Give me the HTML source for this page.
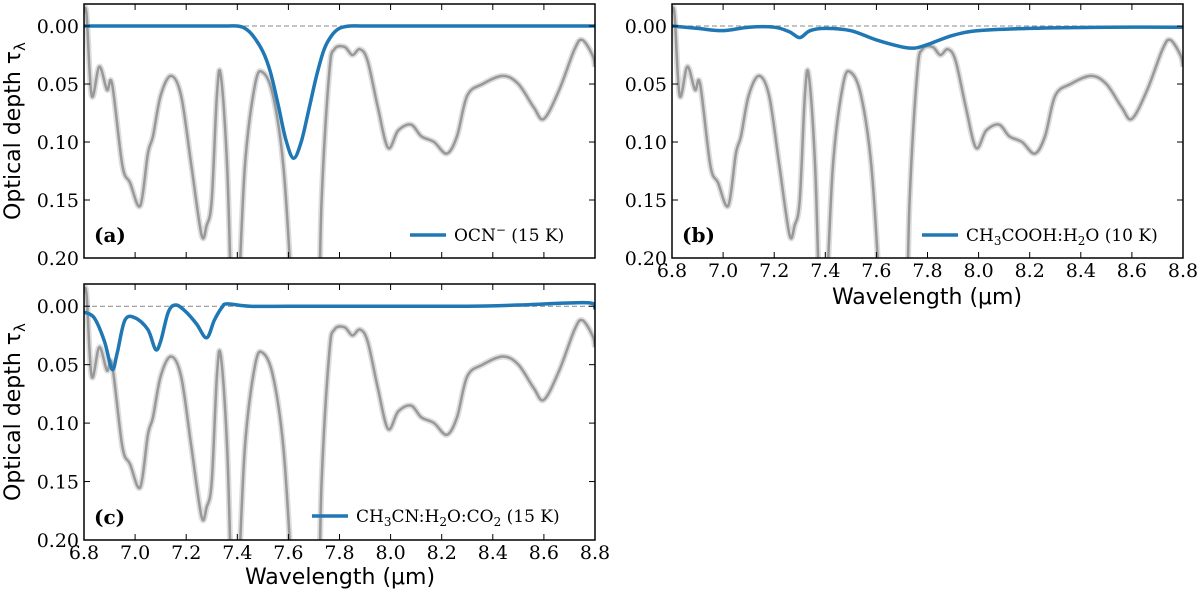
<!DOCTYPE html>
<html><head><meta charset="utf-8"><style>
body{margin:0;background:#fff;overflow:hidden}
svg{display:block}
text{font-family:"DejaVu Serif","Liberation Serif",serif;fill:#000}
</style></head><body>
<svg id="s" width="1200" height="596" viewBox="0 0 1200 596" xmlns="http://www.w3.org/2000/svg"></svg>
<script>
const xTicks=[6.8,7.0,7.2,7.4,7.6,7.8,8.0,8.2,8.4,8.6,8.8];
const xTickLabels=["6.8","7.0","7.2","7.4","7.6","7.8","8.0","8.2","8.4","8.6","8.8"];
const yTicks=[0,0.05,0.10,0.15,0.20];
const yTickLabels=["0.00","0.05","0.10","0.15","0.20"];
const obsWave=[6.8,6.81,6.83,6.86,6.89,6.91,6.95,6.98,7.02,7.05,7.07,7.1,7.14,7.18,7.22,7.26,7.28,7.3,7.32,7.335,7.36,7.38,7.4,7.43,7.47,7.5,7.54,7.58,7.61,7.65,7.71,7.73,7.76,7.78,7.82,7.85,7.88,7.91,7.95,7.99,8.03,8.08,8.12,8.17,8.22,8.26,8.3,8.36,8.44,8.5,8.56,8.6,8.66,8.72,8.75,8.79,8.8];
const obsTau=[-0.012,-0.01,0.06,0.035,0.055,0.05,0.12,0.135,0.155,0.11,0.095,0.06,0.043,0.06,0.12,0.18,0.172,0.15,0.06,0.042,0.12,0.25,0.25,0.12,0.05,0.04,0.06,0.12,0.22,0.4,0.3,0.15,0.04,0.02,0.018,0.025,0.02,0.03,0.07,0.105,0.09,0.085,0.095,0.1,0.11,0.095,0.06,0.05,0.043,0.05,0.07,0.08,0.055,0.02,0.012,0.025,0.035];
const ocnWave=[6.8,7.0,7.2,7.35,7.4,7.43,7.46,7.5,7.53,7.56,7.59,7.62,7.65,7.68,7.71,7.74,7.77,7.8,7.84,7.9,8.1,8.4,8.8];
const ocnTau=[0,0,0,0,0,0.002,0.008,0.022,0.04,0.068,0.098,0.114,0.1,0.072,0.043,0.02,0.008,0.002,0,0,0,0,0];
const aceWave=[6.8,6.9,7.0,7.1,7.2,7.26,7.3,7.34,7.4,7.5,7.6,7.7,7.75,7.8,7.9,8.0,8.2,8.5,8.8];
const aceTau=[0,0.002,0.004,0.001,0.001,0.005,0.01,0.004,0.002,0.004,0.012,0.018,0.019,0.016,0.008,0.004,0.002,0.001,0.001];
const cnWave=[6.8,6.84,6.88,6.91,6.93,6.96,7.0,7.05,7.08,7.1,7.13,7.16,7.2,7.24,7.28,7.31,7.34,7.36,7.45,7.6,8.0,8.3,8.5,8.77,8.8];
const cnTau=[0.005,0.01,0.03,0.054,0.04,0.012,0.01,0.02,0.037,0.03,0.005,-0.001,0.005,0.015,0.027,0.012,0.001,-0.002,0,0,0,0,-0.001,-0.003,0.002];

const NS="http://www.w3.org/2000/svg";
const svg=document.getElementById('s');
function mk(t,a,p){const e=document.createElementNS(NS,t);for(const k in a)e.setAttribute(k,a[k]);(p||svg).appendChild(e);return e;}
function smooth(pts){let d="M"+pts[0][0]+","+pts[0][1];for(let i=0;i<pts.length-1;i++){const p0=pts[Math.max(0,i-1)],p1=pts[i],p2=pts[i+1],p3=pts[Math.min(pts.length-1,i+2)];const c1=[p1[0]+(p2[0]-p0[0])/6,p1[1]+(p2[1]-p0[1])/6],c2=[p2[0]-(p3[0]-p1[0])/6,p2[1]-(p3[1]-p1[1])/6];d+=` C${c1[0]},${c1[1]} ${c2[0]},${c2[1]} ${p2[0]},${p2[1]}`;}return d;}
function panel(id,L,T,R,B,wave,tau,legendHTML,legX,legY,label,showX){
  const xs=w=>L+(w-6.8)/2.0*(R-L);
  const ys=t=>T+(t+0.019)/0.219*(B-T);
  const g=mk('g',{});
  
  
  const cp=mk('clipPath',{id:'c'+id},g);mk('rect',{x:L,y:T,width:R-L,height:B-T},cp);
  const cg=mk('g',{'clip-path':`url(#c${id})`},g);
  const zl=mk('line',{x1:L,x2:R,y1:ys(0),y2:ys(0),stroke:'#888','stroke-dasharray':'5,3','stroke-width':1},cg);
  
  const op=obsWave.map((w,i)=>[xs(w),ys(obsTau[i])]);
  const band=mk('path',{d:smooth(op),fill:'none',stroke:'#ddd','stroke-width':6},cg);
  
  const ol=mk('path',{d:smooth(op),fill:'none',stroke:'#999','stroke-width':2.5},cg);
  
  const bp=wave.map((w,i)=>[xs(w),ys(tau[i])]);
  const bl=mk('path',{d:smooth(bp),fill:'none',stroke:'#1f77b4','stroke-width':3.5},cg);
  
  const fr=mk('rect',{x:L,y:T,width:R-L,height:B-T,fill:'none',stroke:'#000','stroke-width':1.5},g);
  
  xTicks.forEach((v,i)=>{const x=xs(v);mk('line',{x1:x,x2:x,y1:B,y2:B-6,stroke:'#000'},g);mk('line',{x1:x,x2:x,y1:T,y2:T+6,stroke:'#000'},g);
    if(showX){const t=mk('text',{x:x,y:B+19,'text-anchor':'middle','font-size':19},g);t.textContent=xTickLabels[i];}});
  yTicks.forEach((v,i)=>{const y=ys(v);mk('line',{x1:L,x2:L+6,y1:y,y2:y,stroke:'#000'},g);mk('line',{x1:R,x2:R-6,y1:y,y2:y,stroke:'#000'},g);
    const t=mk('text',{x:L-5,y:y+7,'text-anchor':'end','font-size':19},g);t.textContent=yTickLabels[i];});
  const pl=mk('text',{x:L+10,y:B-16,'font-size':20,'font-weight':'bold'},g);pl.textContent=label;
  const ll=mk('line',{x1:legX,x2:legX+36,y1:legY,y2:legY,stroke:'#1f77b4','stroke-width':3.5},g);
  const lt=mk('text',{x:legX+44,y:legY+6,'font-size':17},g);lt.innerHTML=legendHTML;
}
panel('a',84,4,595,258,ocnWave,ocnTau,'OCN<tspan font-size="12" dy="-7">−</tspan><tspan dy="7"> (15 K)</tspan>',410,235,'(a)',false);
panel('b',672,4,1183,258,aceWave,aceTau,'CH<tspan font-size="12" dy="4">3</tspan><tspan dy="-4">COOH:H</tspan><tspan font-size="12" dy="4">2</tspan><tspan dy="-4">O (10 K)</tspan>',922,235,'(b)',true);
panel('c',84,284,595,540,cnWave,cnTau,'CH<tspan font-size="12" dy="4">3</tspan><tspan dy="-4">CN:H</tspan><tspan font-size="12" dy="4">2</tspan><tspan dy="-4">O:CO</tspan><tspan font-size="12" dy="4">2</tspan><tspan dy="-4"> (15 K)</tspan>',312,516,'(c)',true);
function lab(txt,x,y,rot,name){const t=mk('text',{x:x,y:y,'text-anchor':'middle','font-size':22,style:'font-family:"DejaVu Sans","Liberation Sans",sans-serif',transform:rot?`rotate(-90 ${x} ${y})`:''});t.innerHTML=txt;}
lab('Optical depth τ<tspan font-size="15" dy="5">λ</tspan>',20,131,true,'y-axis-title-a');
lab('Optical depth τ<tspan font-size="15" dy="5">λ</tspan>',20,412,true,'y-axis-title-c');
lab('Wavelength (μm)',927,304,false,'x-axis-title-b');
lab('Wavelength (μm)',340,584,false,'x-axis-title-c');
</script>
</body></html>
